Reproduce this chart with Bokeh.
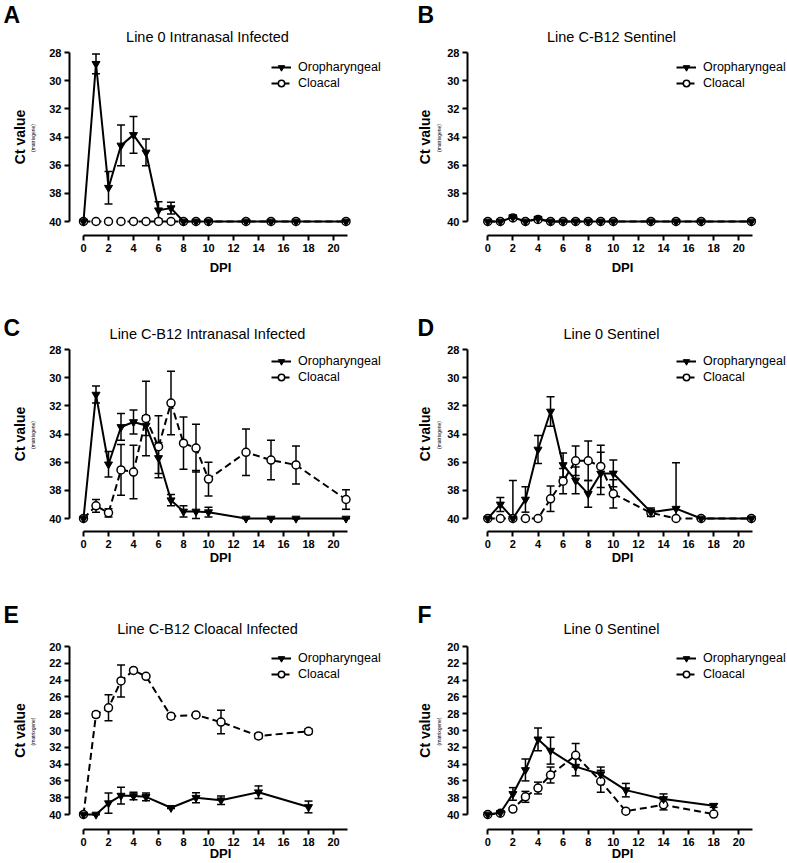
import math
from bokeh.plotting import figure
from bokeh.models import (Range1d, FixedTicker, Label, Legend, LegendItem,
                          Whisker, TeeHead, ColumnDataSource)
from bokeh.layouts import column, row
from bokeh.embed import file_html
from bokeh.resources import INLINE

# ---------------- data ----------------
dpi_abcd = [0, 1, 2, 3, 4, 5, 6, 7, 8, 9, 10, 13, 15, 17, 21]
dpi_ef = [0, 1, 2, 3, 4, 5, 7, 9, 11, 14, 18]

titles = ["Line 0 Intranasal Infected", "Line C-B12 Sentinel",
          "Line C-B12 Intranasal Infected", "Line 0 Sentinel",
          "Line C-B12 Cloacal Infected", "Line 0 Sentinel"]
letters = ["A", "B", "C", "D", "E", "F"]
series_names = ["Oropharyngeal", "Cloacal"]
x_ticks = [0, 2, 4, 6, 8, 10, 12, 14, 16, 18, 20]
y_ticks_28 = [28, 30, 32, 34, 36, 38, 40]
y_ticks_20 = [20, 22, 24, 26, 28, 30, 32, 34, 36, 38, 40]

A_oro = [40, 28.8, 37.6, 34.6, 33.85, 35.1, 39.2, 39.05, 40, 40, 40, 40, 40, 40, 40]
A_oro_err = [0, 0.7, 1.15, 1.45, 1.3, 0.95, 0.6, 0.42, 0, 0, 0, 0, 0, 0, 0]
A_clo = [40, 40, 40, 40, 40, 40, 40, 40, 40, 40, 40, 40, 40, 40, 40]
A_clo_err = [0, 0, 0, 0, 0, 0, 0, 0, 0, 0, 0, 0, 0, 0, 0]

B_oro = [40, 40, 39.7, 40, 39.8, 40, 40, 40, 40, 40, 40, 40, 40, 40, 40]
B_oro_err = [0, 0, 0.15, 0, 0, 0, 0, 0, 0, 0, 0, 0, 0, 0, 0]
B_clo = [40, 40, 39.75, 40, 39.85, 40, 40, 40, 40, 40, 40, 40, 40, 40, 40]
B_clo_err = [0, 0, 0, 0, 0, 0, 0, 0, 0, 0, 0, 0, 0, 0, 0]

C_oro = [40, 31.2, 36.15, 33.5, 33.15, 33.4, 35.7, 38.7, 39.5, 39.5, 39.55, 40, 40, 40, 40]
C_oro_err = [0, 0.6, 0.9, 0.95, 0.85, 0.7, 1.1, 0.4, 0.4, 2.9, 0.35, 0, 0, 0, 0]
C_clo = [40, 39.1, 39.6, 36.55, 36.7, 32.9, 34.9, 31.8, 34.65, 35.0, 37.2, 35.3, 35.85, 36.2, 38.65]
C_clo_err = [0, 0.45, 0.3, 1.8, 1.9, 2.65, 2.2, 2.25, 1.85, 1.7, 1.2, 1.65, 1.4, 1.35, 0.7]

D_oro = [40, 39.0, 40, 38.65, 35.1, 32.4, 36.2, 37.3, 38.25, 36.8, 36.8, 39.55, 39.3, 40, 40]
D_oro_err = [0, 0.5, 2.7, 0.9, 1.0, 1.05, 0.85, 0.95, 0.95, 1.5, 0.95, 0.3, 3.25, 0, 0]
D_clo = [40, 40, 40, 40, 40, 38.6, 37.35, 35.9, 35.9, 36.3, 38.25, 39.6, 40, 40, 40]
D_clo_err = [0, 0, 0, 0, 0, 0.9, 0.9, 1.05, 1.4, 1.5, 1.0, 0.2, 0, 0, 0]

E_oro = [40, 40, 38.65, 37.75, 37.8, 37.9, 39.2, 38.0, 38.3, 37.35, 39.1]
E_oro_err = [0, 0, 1.2, 1.0, 0.45, 0.45, 0.1, 0.6, 0.5, 0.75, 0.7]
E_clo = [40, 28.1, 27.3, 24.1, 22.85, 23.55, 28.3, 28.15, 29.0, 30.65, 30.1]
E_clo_err = [0, 0.3, 1.55, 1.9, 0.15, 0.15, 0.3, 0.1, 1.4, 0.3, 0.3]

F_oro = [40, 39.8, 37.55, 34.7, 31.05, 32.4, 34.3, 35.2, 37.1, 38.15, 38.95]
F_oro_err = [0, 0.1, 0.75, 1.3, 1.35, 1.6, 1.1, 0.85, 0.8, 0.6, 0.2]
F_clo = [40, 39.85, 39.35, 37.9, 36.85, 35.3, 32.95, 36.05, 39.6, 38.85, 39.95]
F_clo_err = [0, 0, 0.2, 0.65, 0.7, 0.95, 1.4, 1.3, 0.15, 0.6, 0]

# ---------------- layout (page pixel geometry) ----------------
FONT = "Liberation Sans"
COLS = [dict(left=0, width=400, axis_x=69, x0=83.0, ppu=12.5,
             title_x=207, letter_x=3, ct_x=19, sub_x=32, dpi_x=220, leg_x=270),
        dict(left=400, width=387, axis_x=467, x0=487.3, ppu=12.55,
             title_x=611, letter_x=417, ct_x=424, sub_x=438, dpi_x=622, leg_x=675)]
ROWS = [dict(top=0, height=290, xaxis=235, ylo=28, ylo_px=52, y40_px=221,
             title_y=36, letter_y=14, dpi_y=267, leg_y=58),
        dict(top=290, height=285, xaxis=531, ylo=28, ylo_px=349, y40_px=518,
             title_y=333, letter_y=327, dpi_y=557, leg_y=352),
        dict(top=575, height=288, xaxis=829, ylo=20, ylo_px=646, y40_px=814,
             title_y=628, letter_y=614, dpi_y=853, leg_y=649)]
LEG_DX, LEG_DY = 1, 1


def style_axis(ax):
    ax.axis_line_width = 2
    ax.axis_line_color = "black"
    ax.major_tick_line_width = 2
    ax.major_tick_line_color = "black"
    ax.major_tick_out = 5
    ax.major_tick_in = 0
    ax.minor_tick_out = 0
    ax.minor_tick_in = 0
    ax.major_label_standoff = 3
    ax.major_label_text_font = FONT
    ax.major_label_text_font_style = "bold"
    ax.major_label_text_font_size = "11px"
    ax.major_label_text_color = "black"


def make_panel(ci, ri, idx, x, oro, oro_err, clo, clo_err):
    c = COLS[ci]
    r = ROWS[ri]
    fl = c["left"]
    fr = c["left"] + c["width"]
    ft = r["top"]
    fb = r["top"] + r["height"]
    ppy = (r["y40_px"] - r["ylo_px"]) / (40 - r["ylo"])
    x_start = (fl - c["x0"]) / c["ppu"]
    x_end = (fr - c["x0"]) / c["ppu"]
    y_bottom = 40 + (fb - r["y40_px"]) / ppy
    y_top = r["ylo"] - (r["ylo_px"] - ft) / ppy

    p = figure(width=c["width"], height=r["height"],
               x_range=Range1d(x_start, x_end), y_range=Range1d(y_bottom, y_top),
               output_backend="svg", toolbar_location=None,
               min_border_left=0, min_border_right=0,
               min_border_top=0, min_border_bottom=0)
    p.outline_line_color = None
    p.xgrid.visible = False
    p.ygrid.visible = False
    p.background_fill_color = "white"
    p.border_fill_color = "white"

    xa = p.xaxis[0]
    xa.ticker = FixedTicker(ticks=x_ticks, minor_ticks=[])
    xa.bounds = (0, 21.1)
    xa.fixed_location = 40 + (r["xaxis"] - r["y40_px"]) / ppy
    style_axis(xa)
    ya = p.yaxis[0]
    yt = y_ticks_28 if r["ylo"] == 28 else y_ticks_20
    ya.ticker = FixedTicker(ticks=yt, minor_ticks=[])
    ya.bounds = (r["ylo"], 40)
    ya.fixed_location = (c["axis_x"] - c["x0"]) / c["ppu"]
    style_axis(ya)

    def src(vals, errs):
        return ColumnDataSource(dict(
            x=x, y=vals,
            upper=[v - e for v, e in zip(vals, errs)],
            lower=[min(v + e, 40) for v, e in zip(vals, errs)]))

    s_clo = src(clo, clo_err)
    s_oro = src(oro, oro_err)

    rc_line = p.line("x", "y", source=s_clo, line_width=2, line_color="black", line_dash="7 4")
    rc_pts = p.scatter("x", "y", source=s_clo, marker="circle", size=8,
                       fill_color="white", line_color="black", line_width=1.5)
    ro_line = p.line("x", "y", source=s_oro, line_width=2, line_color="black")
    ro_pts = p.scatter("x", "y", source=s_oro, marker="inverted_triangle", size=8,
                       fill_color="black", line_color="black", line_width=1)

    for s in (s_clo, s_oro):
        w = Whisker(base="x", upper="upper", lower="lower", source=s, dimension="height",
                    line_width=1.5, line_color="black",
                    upper_head=TeeHead(size=8, line_width=1.5, line_color="black"),
                    lower_head=TeeHead(size=8, line_width=1.5, line_color="black"))
        p.add_layout(w)

    legend = Legend(items=[LegendItem(label=series_names[0], renderers=[ro_line, ro_pts]),
                           LegendItem(label=series_names[1], renderers=[rc_line, rc_pts])],
                    location=(c["leg_x"] - fl + LEG_DX, fb - (r["leg_y"] + 32) - LEG_DY),
                    padding=0, margin=0, spacing=0, glyph_width=20, glyph_height=16,
                    label_height=16, label_standoff=7,
                    label_text_font=FONT, label_text_font_size="12.5px",
                    label_text_color="black",
                    border_line_color=None, background_fill_alpha=0)
    p.add_layout(legend)

    def lab(px, py, text, size, bold=False, align="center", angle=0.0):
        p.add_layout(Label(x=px - fl, y=fb - py, x_units="screen", y_units="screen",
                           text=text, text_font=FONT, text_font_size=size,
                           text_font_style="bold" if bold else "normal",
                           text_align=align, text_baseline="middle",
                           text_color="black", angle=angle))

    lab(c["title_x"], r["title_y"], titles[idx], "14.5px")
    lab(c["letter_x"], r["letter_y"], letters[idx], "23px", bold=True, align="left")
    ymid = (r["ylo_px"] + r["y40_px"]) / 2
    lab(c["ct_x"], ymid, "Ct value", "14px", bold=True, angle=math.pi / 2)
    lab(c["sub_x"], ymid + 1, "(matrixgene)", "5px", angle=math.pi / 2)
    lab(c["dpi_x"], r["dpi_y"], "DPI", "13px", bold=True)
    return p


pA = make_panel(0, 0, 0, dpi_abcd, A_oro, A_oro_err, A_clo, A_clo_err)
pB = make_panel(1, 0, 1, dpi_abcd, B_oro, B_oro_err, B_clo, B_clo_err)
pC = make_panel(0, 1, 2, dpi_abcd, C_oro, C_oro_err, C_clo, C_clo_err)
pD = make_panel(1, 1, 3, dpi_abcd, D_oro, D_oro_err, D_clo, D_clo_err)
pE = make_panel(0, 2, 4, dpi_ef, E_oro, E_oro_err, E_clo, E_clo_err)
pF = make_panel(1, 2, 5, dpi_ef, F_oro, F_oro_err, F_clo, F_clo_err)

layout = column(row(pA, pB), row(pC, pD), row(pE, pF))
open("out.html", "w").write(file_html(layout, INLINE))
